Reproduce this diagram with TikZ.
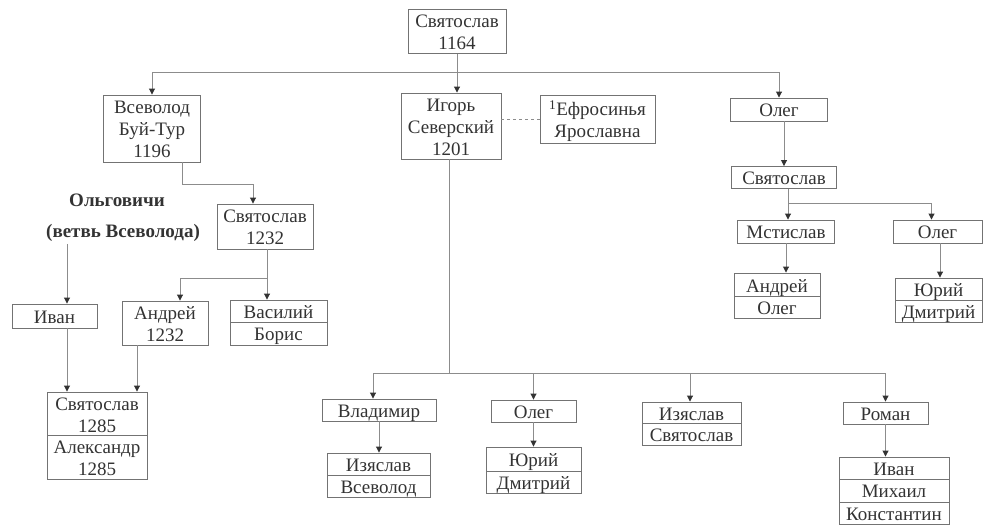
\documentclass[tikz,border=0pt]{standalone}
\usepackage{fontspec}
\setmainfont{Liberation Serif}
\usetikzlibrary{arrows.meta,calc}
\definecolor{linec}{gray}{0.55}
\definecolor{boxc}{gray}{0.45}
\definecolor{txtc}{gray}{0.2}
\newcommand\bxt[1]{\raisebox{-3pt}[\height][\depth]{\begin{tabular}{@{}c@{}}#1\end{tabular}}}
\tikzset{
  pbox/.style={draw=boxc, line width=0.9pt, fill=white, inner sep=0pt, text=txtc,
    font=\fontsize{19}{22}\selectfont},
  conn/.style={draw=linec, line width=0.9pt},
  arr/.style={conn, -{Triangle[length=6pt,width=6pt,color=black!80]}},
  lbl/.style={text=txtc, font=\fontsize{19}{22}\selectfont\bfseries, inner sep=0pt}
}
\begin{document}
\begin{tikzpicture}[x=1pt,y=-1pt]
\useasboundingbox (0,0) rectangle (984,527);
% top level
\node[pbox, minimum width=98, minimum height=43] (top) at (457,31.5) {\bxt{Святослав\\1164}};
\node[pbox, minimum width=97, minimum height=67] (vsev) at (152,128.5) {\bxt{Всеволод\\Буй-Тур\\1196}};
\node[pbox, minimum width=100, minimum height=66] (igor) at (451,126) {\bxt{Игорь\\Северский\\1201}};
\node[pbox, minimum width=115, minimum height=48] (efros) at (597.5,119) {\bxt{\textsuperscript{1}Ефросинья\\Ярославна}};
\node[pbox, minimum width=97, minimum height=23] (olegA) at (779,109.5) {\bxt{Олег}};
% right branch
\node[pbox, minimum width=105, minimum height=21] (svR) at (784,177.5) {\bxt{Святослав}};
\node[pbox, minimum width=97, minimum height=23] (mst) at (786,231.5) {\bxt{Мстислав}};
\node[pbox, minimum width=89, minimum height=23] (olegB) at (937.5,231.5) {\bxt{Олег}};
\node[pbox, minimum width=86, minimum height=24] (andR) at (777,285) {\bxt{Андрей}};
\node[pbox, minimum width=86, minimum height=21] (olegR) at (777,307.5) {\bxt{Олег}};
\node[pbox, minimum width=87, minimum height=22] (yuriR) at (938.5,289) {\bxt{Юрий}};
\node[pbox, minimum width=87, minimum height=22] (dmR) at (938.5,311) {\bxt{Дмитрий}};
% left branch
\node[lbl] (olg) at (117,200) {Ольговичи};
\node[lbl] (vetv) at (123,233) {(ветвь Всеволода)};
\node[pbox, minimum width=85, minimum height=24] (ivanL) at (54.5,316) {\bxt{Иван}};
\node[pbox, minimum width=96, minimum height=45] (sv1232) at (265,226.5) {\bxt{Святослав\\1232}};
\node[pbox, minimum width=86, minimum height=44] (andL) at (165,323) {\bxt{Андрей\\1232}};
\node[pbox, minimum width=97, minimum height=22] (vas) at (278.5,311) {\bxt{Василий}};
\node[pbox, minimum width=97, minimum height=23] (bor) at (278.5,333.5) {\bxt{Борис}};
\node[pbox, minimum width=100, minimum height=44] (sv1285) at (97,414) {\bxt{Святослав\\1285}};
\node[pbox, minimum width=100, minimum height=43] (al1285) at (97,457.5) {\bxt{Александр\\1285}};
% bottom branch
\node[pbox, minimum width=114, minimum height=22] (vlad) at (379,410) {\bxt{Владимир}};
\node[pbox, minimum width=103, minimum height=23] (izA) at (378.5,464.5) {\bxt{Изяслав}};
\node[pbox, minimum width=103, minimum height=21] (vsA) at (378.5,486.5) {\bxt{Всеволод}};
\node[pbox, minimum width=85, minimum height=22] (olegM) at (533.5,411) {\bxt{Олег}};
\node[pbox, minimum width=95, minimum height=24] (yuriM) at (533.5,459) {\bxt{Юрий}};
\node[pbox, minimum width=95, minimum height=22] (dmM) at (533.5,482) {\bxt{Дмитрий}};
\node[pbox, minimum width=99, minimum height=23] (izB) at (691.5,413.5) {\bxt{Изяслав}};
\node[pbox, minimum width=99, minimum height=19] (svB) at (691.5,434.5) {\bxt{Святослав}};
\node[pbox, minimum width=85, minimum height=22] (rom) at (885.5,413) {\bxt{Роман}};
\node[pbox, minimum width=110, minimum height=22] (ivB) at (894,468) {\bxt{Иван}};
\node[pbox, minimum width=110, minimum height=23] (mih) at (894,490.5) {\bxt{Михаил}};
\node[pbox, minimum width=110, minimum height=22] (kon) at (894,513) {\bxt{Константин}};
% connectors top
\coordinate (busT) at (0,72);
\draw[conn] (vsev.north |- busT) -- (olegA.north |- busT);
\draw[arr] (top.south) -- (top.south |- igor.north);
\draw[arr] (vsev.north |- busT) -- (vsev.north);
\draw[arr] (olegA.north |- busT) -- (olegA.north);
\draw[conn, dashed] (efros.west -| igor.east) -- (efros.west);
% right
\draw[arr] (olegA.south -| svR) -- (svR.north);
\coordinate (rx) at (788,203);
\draw[arr] (svR.south -| rx) -- (mst.north -| rx);
\draw[arr] (rx) -| ([xshift=-6pt]olegB.north);
\draw[arr] (mst.south) -- (mst.south |- andR.north);
\draw[arr] ([xshift=2.5pt]olegB.south) -- ([xshift=2.5pt]olegB.south |- yuriR.north);
% left
\coordinate (vx) at (182,184);
\draw[arr] (vsev.south -| vx) -- (vx) -| ([xshift=-12pt]sv1232.north);
\draw[arr] ([xshift=12.5pt]ivanL.north |- vetv.south) ++(0,2) -- ([xshift=12.5pt]ivanL.north);
\draw[arr] ([xshift=12.5pt]ivanL.south) -- ([xshift=12.5pt]ivanL.south |- sv1285.north);
\coordinate (lx) at (267,278);
\draw[arr] (sv1232.south -| lx) -- (vas.north -| lx);
\draw[arr] (lx) -| ([xshift=15pt]andL.north);
\draw[arr] ([xshift=-28pt]andL.south) -- ([xshift=-28pt]andL.south |- sv1285.north);
% bottom
\coordinate (busB) at (449,373);
\draw[conn] (igor.south -| busB) -- (busB);
\draw[conn] (busB -| 373,0) -- (busB -| rom.north);
\draw[arr] (busB -| 373,0) -- (vlad.north -| 373,0);
\draw[arr] (busB -| olegM.north) -- (olegM.north);
\draw[arr] (busB -| 690,0) -- (izB.north -| 690,0);
\draw[arr] (busB -| rom.north) -- (rom.north);
\draw[arr] (vlad.south) -- (vlad.south |- izA.north);
\draw[arr] (olegM.south) -- (olegM.south |- yuriM.north);
\draw[arr] (rom.south) -- (rom.south |- ivB.north);
\end{tikzpicture}
\end{document}
